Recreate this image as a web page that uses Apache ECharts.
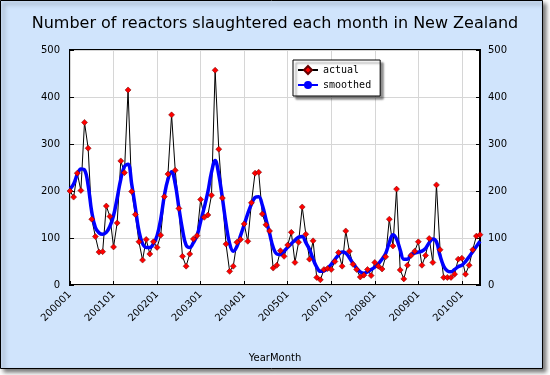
<!DOCTYPE html>
<html>
<head>
<meta charset="utf-8">
<script src="https://cdn.jsdelivr.net/npm/echarts@6/dist/echarts.min.js"></script>
<style>
html, body { margin: 0; padding: 0; background: #fff; }
#main { width: 550px; height: 375px; }
</style>
</head>
<body>
<div id="main"></div>
<script>
// months as YYYYMM, there is no 2006 in the data
const years = [2000, 2001, 2002, 2003, 2004, 2005, 2007, 2008, 2009, 2010];
const monthsInLastYear = 6;
const categories = [];
years.forEach(function (y, i) {
    const n = i === years.length - 1 ? monthsInLastYear : 12;
    for (let m = 1; m <= n; m++) {
        categories.push(String(y) + (m < 10 ? '0' : '') + m);
    }
});

// reactors slaughtered per month
const actual = [
    200, 187, 238, 201, 346, 291, 140, 103, 70, 71,
    168, 146, 81, 132, 264, 239, 415, 199, 150, 92,
    53, 97, 66, 92, 80, 106, 188, 236, 362, 244,
    163, 61, 40, 66, 98, 105, 182, 144, 149, 191,
    457, 289, 185, 87, 29, 40, 91, 97, 130, 93,
    175, 238, 240, 151, 128, 115, 36, 42, 73, 61,
    85, 112, 48, 91, 166, 108, 55, 94, 16, 11,
    33, 35, 33, 50, 69, 40, 115, 72, 44, 33,
    17, 21, 33, 20, 48, 40, 34, 60, 140, 83,
    204, 32, 13, 42, 63, 72, 92, 42, 63, 99,
    48, 213, 75, 16, 16, 16, 23, 55, 57, 23,
    42, 75, 104, 107
];

const smoothed = [
    204, 215, 235, 247, 245, 212, 155, 122, 111, 108,
    112, 125, 148, 185, 225, 252, 257, 215, 165, 115,
    88, 80, 80, 88, 105, 140, 190, 225, 241, 215,
    165, 118, 85, 80, 90, 105, 135, 165, 198, 240,
    265, 235, 185, 130, 88, 72, 82, 105, 128, 152,
    172, 186, 188, 170, 140, 110, 80, 66, 65, 72,
    80, 88, 95, 102, 103, 90, 76, 55, 38, 29,
    30, 36, 44, 54, 64, 70, 68, 58, 46, 36,
    28, 25, 28, 33, 38, 45, 55, 67, 90, 107,
    98, 75, 55, 55, 65, 68, 70, 72, 78, 90,
    98, 92, 62, 40, 30, 28, 33, 39, 42, 50,
    60, 71, 82, 93
];

const yMin = 0, yMax = 500, yStep = 100;

const bg = '#d0e4fc';
const font = 'DejaVu Sans';

const chart = echarts.init(document.getElementById('main'), null, { renderer: 'canvas' });

function valueAxis(pos) {
    return {
        type: 'value',
        position: pos,
        min: yMin, max: yMax, interval: yStep,
        axisLine: { show: false },
        axisTick: { show: true, inside: true, length: 4, lineStyle: { color: '#000' } },
        axisLabel: { color: '#000', fontFamily: font, fontSize: 10, margin: pos === 'left' ? 10 : 8 },
        splitLine: { show: pos === 'left', lineStyle: { color: '#d6d6d6', width: 1 } }
    };
}

chart.setOption({
    animation: false,
    backgroundColor: '#fff',
    graphic: [{
        type: 'rect',
        z: -10,
        silent: true,
        shape: { x: 0.5, y: 0.5, width: 542, height: 368 },
        style: {
            fill: bg, stroke: '#000', lineWidth: 1,
            shadowBlur: 4, shadowOffsetX: 3, shadowOffsetY: 3, shadowColor: 'rgba(0,0,0,0.5)'
        }
    }],
    title: {
        text: 'Number of reactors slaughtered each month in New Zealand',
        left: 'center',
        top: 11,
        textStyle: { fontFamily: font, fontSize: 16, fontWeight: 'normal', color: '#000' }
    },
    legend: {
        orient: 'vertical',
        left: 293,
        top: 60,
        data: ['actual', 'smoothed'],
        itemWidth: 20,
        itemHeight: 10,
        itemGap: 5,
        padding: [5, 9, 6, 4],
        backgroundColor: '#fff',
        borderColor: '#000',
        borderWidth: 1,
        shadowColor: 'rgba(0,0,0,0.45)',
        shadowBlur: 2,
        shadowOffsetX: 3,
        shadowOffsetY: 3,
        textStyle: { fontFamily: 'DejaVu Sans Mono', fontSize: 10, color: '#000' }
    },
    grid: {
        left: 70, right: 70, top: 50, bottom: 90,
        show: true,
        backgroundColor: '#fff',
        borderColor: '#000',
        borderWidth: 2
    },
    xAxis: {
        type: 'category',
        data: categories,
        boundaryGap: false,
        name: 'YearMonth',
        nameLocation: 'middle',
        nameGap: 68,
        nameTextStyle: { fontFamily: font, fontSize: 10, color: '#000' },
        axisLine: { show: false },
        axisTick: { show: true, inside: true, length: 4, interval: 11, lineStyle: { color: '#000' } },
        axisLabel: { interval: 11, rotate: 45, color: '#000', fontFamily: font, fontSize: 10, margin: 8 },
        splitLine: { show: true, interval: 11, lineStyle: { color: '#d6d6d6', width: 1 } }
    },
    yAxis: [valueAxis('left'), valueAxis('right')],
    series: [{
        name: 'actual',
        type: 'line',
        data: actual,
        symbol: 'diamond',
        symbolSize: 6,
        showAllSymbol: true,
        lineStyle: { color: '#000', width: 1 },
        itemStyle: { color: '#ff0000', borderColor: '#600', borderWidth: 0.5 }
    }, {
        name: 'smoothed',
        type: 'line',
        data: smoothed,
        smooth: 0.4,
        symbol: 'none',
        lineStyle: { color: '#0000ff', width: 3.5 },
        itemStyle: { color: '#0000ff' }
    }]
});
</script>
</body>
</html>
